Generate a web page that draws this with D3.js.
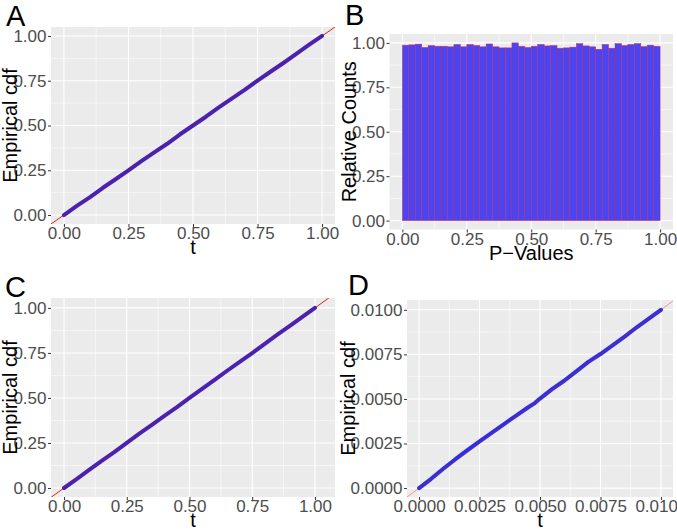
<!DOCTYPE html>
<html>
<head>
<meta charset="utf-8">
<script src="https://cdn.jsdelivr.net/npm/d3@7"></script>
<style>
  body { margin: 0; background: #fff; }
  svg { display: block; font-family: "Liberation Sans", Arial, Helvetica, sans-serif; }
</style>
</head>
<body>
<div id="plot"></div>
<script>
// ecdf sample points (t, empirical cdf)
const tUnit = [0, 0.05, 0.10, 0.15, 0.20, 0.25, 0.30, 0.35, 0.40, 0.45, 0.50, 0.55, 0.60, 0.65, 0.70, 0.75, 0.80, 0.85, 0.90, 0.95, 1.00];
const cdfA = [0, 0.051, 0.099, 0.151, 0.200, 0.249, 0.301, 0.350, 0.398, 0.451, 0.500, 0.549, 0.601, 0.650, 0.699, 0.751, 0.800, 0.849, 0.900, 0.951, 1.00];
const cdfC = [0, 0.049, 0.100, 0.151, 0.199, 0.250, 0.302, 0.351, 0.400, 0.449, 0.500, 0.550, 0.600, 0.651, 0.700, 0.749, 0.800, 0.851, 0.900, 0.950, 1.00];
const tSmall = [0, 0.0005, 0.0010, 0.0015, 0.0020, 0.0025, 0.0030, 0.0035, 0.0040, 0.0045, 0.0048, 0.0050, 0.0055, 0.0060, 0.0065, 0.0070, 0.0075, 0.0080, 0.0085, 0.0090, 0.0095, 0.0100];
const cdfD = [0, 0.00052, 0.00108, 0.00162, 0.00213, 0.00262, 0.00310, 0.00358, 0.00405, 0.00452, 0.00478, 0.00502, 0.00555, 0.00602, 0.00655, 0.00708, 0.00752, 0.00800, 0.00850, 0.00902, 0.00950, 0.0100];

// histogram of p-values, 40 bins on [0, 1], relative counts
const pCounts = [0.987, 0.989, 0.993, 0.974, 0.985, 0.981, 0.981, 0.978, 0.991, 0.978,
                 0.991, 0.985, 0.978, 0.994, 0.978, 0.972, 0.972, 1.000, 0.981, 0.974,
                 0.981, 0.991, 0.983, 0.985, 0.970, 0.972, 0.976, 0.996, 0.983, 0.978,
                 0.964, 0.991, 0.970, 0.996, 0.985, 0.991, 0.996, 0.979, 0.987, 0.981];

// tick values and labels
const ticksUnit = [0, 0.25, 0.5, 0.75, 1];
const labelsUnit = ["0.00", "0.25", "0.50", "0.75", "1.00"];
const ticksSmall = [0, 0.0025, 0.005, 0.0075, 0.01];
const labelsSmall = ["0.0000", "0.0025", "0.0050", "0.0075", "0.0100"];

const W = 677, H = 530;

const svg = d3.select("#plot")
    .append("svg")
    .attr("width", W)
    .attr("height", H);

let clipId = 0;

function panel(o) {
    const x = d3.scaleLinear().domain(o.xDomain).range([o.left, o.right]);
    const y = d3.scaleLinear().domain(o.yDomain).range([o.bottom, o.top]);
    const g = svg.append("g");

    // background
    g.append("rect")
        .attr("x", o.left).attr("y", o.top)
        .attr("width", o.right - o.left).attr("height", o.bottom - o.top)
        .attr("fill", "#ebebeb");

    // minor grid at midpoints between majors
    const minor = (t) => d3.pairs(t).map(p => (p[0] + p[1]) / 2);
    g.selectAll(".minx").data(minor(o.xTicks)).enter().append("line")
        .attr("x1", d => x(d)).attr("x2", d => x(d))
        .attr("y1", o.top).attr("y2", o.bottom)
        .attr("stroke", "#fff").attr("stroke-width", 0.55);
    g.selectAll(".miny").data(minor(o.yTicks)).enter().append("line")
        .attr("y1", d => y(d)).attr("y2", d => y(d))
        .attr("x1", o.left).attr("x2", o.right)
        .attr("stroke", "#fff").attr("stroke-width", 0.55);
    // major grid
    g.selectAll(".majx").data(o.xTicks).enter().append("line")
        .attr("x1", d => x(d)).attr("x2", d => x(d))
        .attr("y1", o.top).attr("y2", o.bottom)
        .attr("stroke", "#fff").attr("stroke-width", 1.1);
    g.selectAll(".majy").data(o.yTicks).enter().append("line")
        .attr("y1", d => y(d)).attr("y2", d => y(d))
        .attr("x1", o.left).attr("x2", o.right)
        .attr("stroke", "#fff").attr("stroke-width", 1.1);

    // axes
    const xAxis = d3.axisBottom(x).tickValues(o.xTicks)
        .tickFormat((d, i) => o.xLabels[i]).tickSizeInner(3).tickSizeOuter(0).tickPadding(0);
    const yAxis = d3.axisLeft(y).tickValues(o.yTicks)
        .tickFormat((d, i) => o.yLabels[i]).tickSizeInner(3).tickSizeOuter(0).tickPadding(1.5);

    const gx = g.append("g").attr("transform", "translate(0," + o.bottom + ")").call(xAxis);
    const gy = g.append("g").attr("transform", "translate(" + o.left + ",0)").call(yAxis);
    [gx, gy].forEach(a => {
        a.attr("font-size", null).attr("font-family", null);
        a.select(".domain").remove();
        a.selectAll("line").attr("stroke", "#333");
        a.selectAll("text").attr("fill", "#4d4d4d").style("font-size", "17px");
    });

    // axis titles
    g.append("text")
        .attr("x", (o.left + o.right) / 2).attr("y", o.bottom + 30)
        .attr("text-anchor", "middle").style("font-size", "20px")
        .text(o.xTitle);
    g.append("text")
        .attr("transform", "translate(" + o.yTitleX + "," + (o.top + o.bottom) / 2 + ") rotate(-90)")
        .attr("text-anchor", "middle").style("font-size", "20px")
        .text(o.yTitle);

    // panel letter
    g.append("text")
        .attr("x", o.tagX).attr("y", o.tagY)
        .style("font-size", "29px")
        .text(o.tag);

    const id = "clip" + (clipId++);
    svg.append("clipPath").attr("id", id).append("rect")
        .attr("x", o.left).attr("y", o.top)
        .attr("width", o.right - o.left).attr("height", o.bottom - o.top);
    const inner = g.append("g").attr("clip-path", "url(#" + id + ")");
    return {x, y, inner};
}

function ecdfPanel(o, ts, cdf, bandColor, bandWidth, redOnTop) {
    const p = panel(o);
    const lo = o.xDomain[0] - 1, hi = o.xDomain[1] + 1;
    const diag = () => p.inner.append("line")
        .attr("x1", p.x(lo)).attr("y1", p.y(lo))
        .attr("x2", p.x(hi)).attr("y2", p.y(hi))
        .attr("stroke", "#e0201b").attr("stroke-width", 1);
    if (!redOnTop) diag();
    const pts = ts.map((t, i) => ({t: t, v: cdf[i]}));
    p.inner.append("path")
        .datum(pts)
        .attr("fill", "none")
        .attr("stroke", bandColor)
        .attr("stroke-width", bandWidth)
        .attr("stroke-linecap", "round")
        .attr("stroke-linejoin", "round")
        .attr("d", d3.line().x(d => p.x(d.t)).y(d => p.y(d.v)));
    if (redOnTop) diag().attr("opacity", 0.4);
}

// A
ecdfPanel({
    left: 51, right: 335, top: 27, bottom: 224,
    xDomain: [-0.05, 1.05], yDomain: [-0.05, 1.05],
    xTicks: ticksUnit, yTicks: ticksUnit, xLabels: labelsUnit, yLabels: labelsUnit,
    xTitle: "t", yTitle: "Empirical cdf", yTitleX: 17,
    tag: "A", tagX: 6, tagY: 26
}, tUnit, cdfA, "#4b21ad", 4, false);

// C
ecdfPanel({
    left: 51, right: 335, top: 298, bottom: 497,
    xDomain: [-0.052, 1.08], yDomain: [-0.05, 1.055],
    xTicks: ticksUnit, yTicks: ticksUnit, xLabels: labelsUnit, yLabels: labelsUnit,
    xTitle: "t", yTitle: "Empirical cdf", yTitleX: 17,
    tag: "C", tagX: 5, tagY: 297
}, tUnit, cdfC, "#4b21ad", 4, false);

// D
ecdfPanel({
    left: 407, right: 673, top: 300, bottom: 497,
    xDomain: [-0.0005, 0.0105], yDomain: [-0.0005, 0.01055],
    xTicks: ticksSmall, yTicks: ticksSmall, xLabels: labelsSmall, yLabels: labelsSmall,
    xTitle: "t", yTitle: "Empirical cdf", yTitleX: 355,
    tag: "D", tagX: 348, tagY: 295
}, tSmall, cdfD, "#2d2fe3", 4, true);

// B histogram
(function () {
    const o = {
        left: 389.5, right: 673, top: 34, bottom: 229.5,
        xDomain: [-0.05, 1.05], yDomain: [-0.05, 1.05],
        xTicks: ticksUnit, yTicks: ticksUnit, xLabels: labelsUnit, yLabels: labelsUnit,
        xTitle: "P\u2212Values", yTitle: "Relative Counts", yTitleX: 356,
        tag: "B", tagX: 345, tagY: 25
    };
    const p = panel(o);
    const bw = 1 / pCounts.length;
    p.inner.selectAll("rect.bar")
        .data(pCounts)
        .enter()
        .append("rect")
        .attr("class", "bar")
        .attr("x", (d, i) => p.x(i * bw))
        .attr("y", d => p.y(d))
        .attr("width", p.x(bw) - p.x(0))
        .attr("height", d => p.y(0) - p.y(d))
        .attr("fill", "#4a45f1")
        .attr("stroke", "#d0245a")
        .attr("stroke-opacity", 0.8)
        .attr("stroke-width", 0.6);
})();
</script>
</body>
</html>
